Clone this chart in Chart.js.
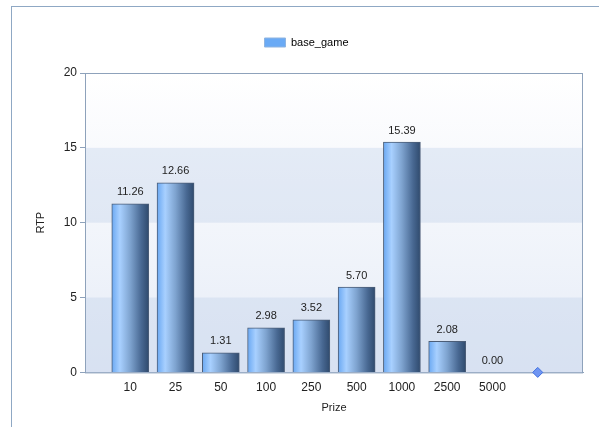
<!DOCTYPE html>
<html>
<head>
<meta charset="utf-8">
<script src="https://cdn.jsdelivr.net/npm/chart.js@4/dist/chart.umd.min.js"></script>
<style>
    html, body { margin: 0; padding: 0; background: #fff; }
    #frame { position: absolute; left: 11px; top: 6px; width: 600px; height: 430px;
             border-left: 1px solid #8fa8c4; border-top: 1px solid #8fa8c4; }
    #wrap { position: absolute; left: 0; top: 0; width: 599px; height: 427px; }
</style>
</head>
<body>
<div id="frame"></div>
<div id="wrap"><canvas id="myChart"></canvas></div>
<script>
const prizes = ["10", "25", "50", "100", "250", "500", "1000", "2500", "5000"];
const rtp = [11.26, 12.66, 1.31, 2.98, 3.52, 5.70, 15.39, 2.08, 0.00];
const markerPos = [10];
const markerVal = [0];
const yTicks = [0, 5, 10, 15, 20];

// background strips + plot border
const plotBg = {
    id: "plotBg",
    beforeInit(chart) {
        // extra gap under the legend
        const fit = chart.legend.fit;
        chart.legend.fit = function () {
            fit.call(this);
            this.height += 15;
        };
    },
    beforeDatasetsDraw(chart) {
        const { ctx, chartArea: a, scales: { y } } = chart;
        ctx.save();
        const g = ctx.createLinearGradient(0, a.top, 0, a.bottom);
        g.addColorStop(0, "#ffffff");
        g.addColorStop(1, "#e6ecf7");
        ctx.fillStyle = g;
        ctx.fillRect(a.left, a.top, a.right - a.left, a.bottom - a.top);
        ctx.fillStyle = "rgba(190,206,232,0.35)";
        [[0, 5], [10, 15]].forEach(([lo, hi]) => {
            const t = y.getPixelForValue(hi), b = y.getPixelForValue(lo);
            ctx.fillRect(a.left, t, a.right - a.left, b - t);
        });
        ctx.strokeStyle = "#8ea2bb";
        ctx.lineWidth = 1;
        ctx.strokeRect(a.left + 0.5, a.top + 0.5, a.right - a.left - 1, a.bottom - a.top);
        ctx.restore();
    },
    afterDatasetsDraw(chart) {
        const { ctx } = chart;
        const meta = chart.getDatasetMeta(0);
        ctx.save();
        ctx.font = "11px 'Liberation Sans', Arial, sans-serif";
        ctx.fillStyle = "#222";
        ctx.textAlign = "center";
        ctx.textBaseline = "bottom";
        meta.data.forEach((bar, i) => {
            ctx.fillText(rtp[i].toFixed(2), bar.x, bar.y - 6);
        });
        ctx.restore();
    },
};

function barFill(c) {
    const xs = c.chart.scales.x;
    if (!xs || !c.parsed) return "#6aaaf5";
    const cx = xs.getPixelForValue(c.parsed.x);
    const g = c.chart.ctx.createLinearGradient(cx - 18.5, 0, cx + 18.5, 0);
    g.addColorStop(0, "#6aa8f2");
    g.addColorStop(0.22, "#a8d0ff");
    g.addColorStop(0.5, "#7ea3cf");
    g.addColorStop(0.8, "#486892");
    g.addColorStop(1, "#2f4a6d");
    return g;
}

new Chart(document.getElementById("myChart"), {
    type: "bar",
    data: {
        datasets: [
            {
                label: "base_game",
                data: rtp.map((v, i) => ({ x: i + 1, y: v })),
                backgroundColor: barFill,
                borderColor: "#4b5d77",
                borderWidth: 1,
                borderSkipped: "bottom",
                barThickness: 37,
                order: 2,
            },
            {
                type: "line",
                label: "marker",
                data: markerPos.map((p, i) => ({ x: p, y: markerVal[i] })),
                showLine: false,
                pointStyle: "rectRot",
                pointRadius: 5,
                pointBackgroundColor: "#6f95f2",
                pointBorderColor: "#3f6fe0",
                pointBorderWidth: 1,
                clip: false,
                order: 1,
            },
        ],
    },
    options: {
        responsive: true,
        maintainAspectRatio: false,
        animation: false,
        layout: { padding: { left: 30, right: 16, top: 27, bottom: 8 } },
        plugins: {
            legend: {
                display: true,
                labels: {
                    boxWidth: 21,
                    boxHeight: 9,
                    color: "#111",
                    font: { size: 11, family: "'Liberation Sans', Arial, sans-serif" },
                    generateLabels: (chart) => [{
                        text: "base_game",
                        fillStyle: "#6aaaf5",
                        strokeStyle: "#8fb4e0",
                        lineWidth: 1,
                        datasetIndex: 0,
                    }],
                },
            },
            tooltip: { enabled: false },
        },
        scales: {
            x: {
                type: "linear",
                min: 0,
                max: 11,
                offset: false,
                afterBuildTicks: (s) => { s.ticks = prizes.map((p, i) => ({ value: i + 1 })); },
                ticks: {
                    autoSkip: false,
                    maxRotation: 0,
                    color: "#222",
                    padding: 0,
                    font: { size: 12, family: "'Liberation Sans', Arial, sans-serif" },
                    callback: (v) => prizes[v - 1] || "",
                },
                grid: { display: false },
                border: { color: "#8ea2bb" },
                title: {
                    display: true,
                    text: "Prize",
                    color: "#222",
                    font: { size: 11, family: "'Liberation Sans', Arial, sans-serif" },
                    padding: { top: 7 },
                },
            },
            y: {
                min: 0,
                max: 20,
                afterBuildTicks: (s) => { s.ticks = yTicks.map((v) => ({ value: v })); },
                ticks: {
                    color: "#222",
                    padding: 3,
                    font: { size: 12, family: "'Liberation Sans', Arial, sans-serif" },
                },
                grid: { drawOnChartArea: false, tickLength: 5, color: "#8ea2bb" },
                border: { color: "#8ea2bb" },
                title: {
                    display: true,
                    text: "RTP",
                    color: "#222",
                    font: { size: 11, family: "'Liberation Sans', Arial, sans-serif" },
                    padding: { bottom: 4 },
                },
                afterFit: (s) => { s.width = 55; },
            },
        },
    },
    plugins: [plotBg],
});
</script>
</body>
</html>
